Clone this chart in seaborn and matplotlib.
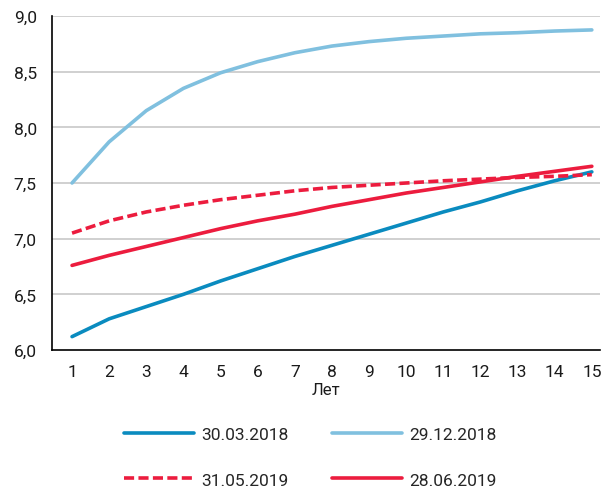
import numpy as np
import pandas as pd
import seaborn as sns
import matplotlib.pyplot as plt
from matplotlib.ticker import FixedLocator, FuncFormatter

# Data (years vs yield, %)
years = list(range(1, 16))
s_30_03_2018 = [6.12, 6.28, 6.39, 6.50, 6.62, 6.73, 6.84, 6.94, 7.04, 7.14, 7.24, 7.33, 7.43, 7.52, 7.60]
s_29_12_2018 = [7.50, 7.87, 8.15, 8.35, 8.49, 8.59, 8.67, 8.73, 8.77, 8.80, 8.82, 8.84, 8.85, 8.865, 8.875]
s_31_05_2019 = [7.05, 7.16, 7.24, 7.30, 7.35, 7.39, 7.43, 7.46, 7.48, 7.50, 7.52, 7.535, 7.55, 7.56, 7.575]
s_28_06_2019 = [6.76, 6.85, 6.93, 7.01, 7.09, 7.16, 7.22, 7.29, 7.35, 7.41, 7.46, 7.51, 7.56, 7.605, 7.65]

labels = ['30.03.2018', '29.12.2018', '31.05.2019', '28.06.2019']
colors = ['#0a8bbf', '#80c0df', '#ec1c3e', '#ec1c3e']
dashes = [False, False, True, False]

if __name__ == '__main__':
    sns.set_style("white")
    plt.rcParams['font.family'] = ['Roboto', 'DejaVu Sans']

    df = pd.DataFrame({'year': years * 4,
                       'value': s_30_03_2018 + s_29_12_2018 + s_31_05_2019 + s_28_06_2019,
                       'series': sum([[l] * len(years) for l in labels], [])})

    fig = plt.figure(figsize=(6.09, 4.89), dpi=100)
    ax = fig.add_axes([52 / 609, 1 - 351 / 489, 548 / 609, 334 / 489])

    for lab, col, dsh in zip(labels, colors, dashes):
        sub = df[df['series'] == lab]
        sns.lineplot(data=sub, x='year', y='value', ax=ax, color=col, linewidth=2.6,
                     label=lab, linestyle=(0, (2.8, 1.2)) if dsh else '-')

    ax.set_xlim(0.46, 15.22)
    ax.set_ylim(6.0, 9.0)
    ax.set_yticks(np.arange(6.0, 9.01, 0.5))
    ax.yaxis.set_major_formatter(FuncFormatter(lambda v, p: f'{v:.1f}'.replace('.', ',')))
    ax.set_xticks(years)
    ax.xaxis.set_minor_locator(FixedLocator(np.arange(1.5, 15.0, 1.0)))
    ax.tick_params(axis='x', which='major', length=0, pad=10, labelsize=12.5, colors='#1a1a1a')
    ax.tick_params(axis='x', which='minor', length=7, width=1, color='#555555', direction='out')
    ax.tick_params(axis='y', which='major', length=7, width=1, color='#555555', labelsize=12.5,
                   labelcolor='#1a1a1a', pad=4)

    for y in np.arange(6.5, 9.01, 0.5):
        ax.axhline(y, color='#c8c8c8', linewidth=1.2, zorder=0)

    for s in ['top', 'right']:
        ax.spines[s].set_visible(False)
    for s in ['left', 'bottom']:
        ax.spines[s].set_color('black')
        ax.spines[s].set_linewidth(1.2)

    ax.set_xlabel('Лет', fontsize=12, color='#1a1a1a', labelpad=2)
    ax.set_ylabel('')

    # legend filled row by row
    handles, labs = ax.get_legend_handles_labels()
    ax.get_legend().remove()
    order = [0, 2, 1, 3]
    fig.legend([handles[i] for i in order], [labs[i] for i in order], ncol=2,
               loc='upper center', bbox_to_anchor=(0.51, 0.157),
               frameon=False, fontsize=12.5, handlelength=4.0, columnspacing=2.5,
               labelspacing=1.75, handletextpad=0.45)

    plt.savefig('out.png', dpi=100)
